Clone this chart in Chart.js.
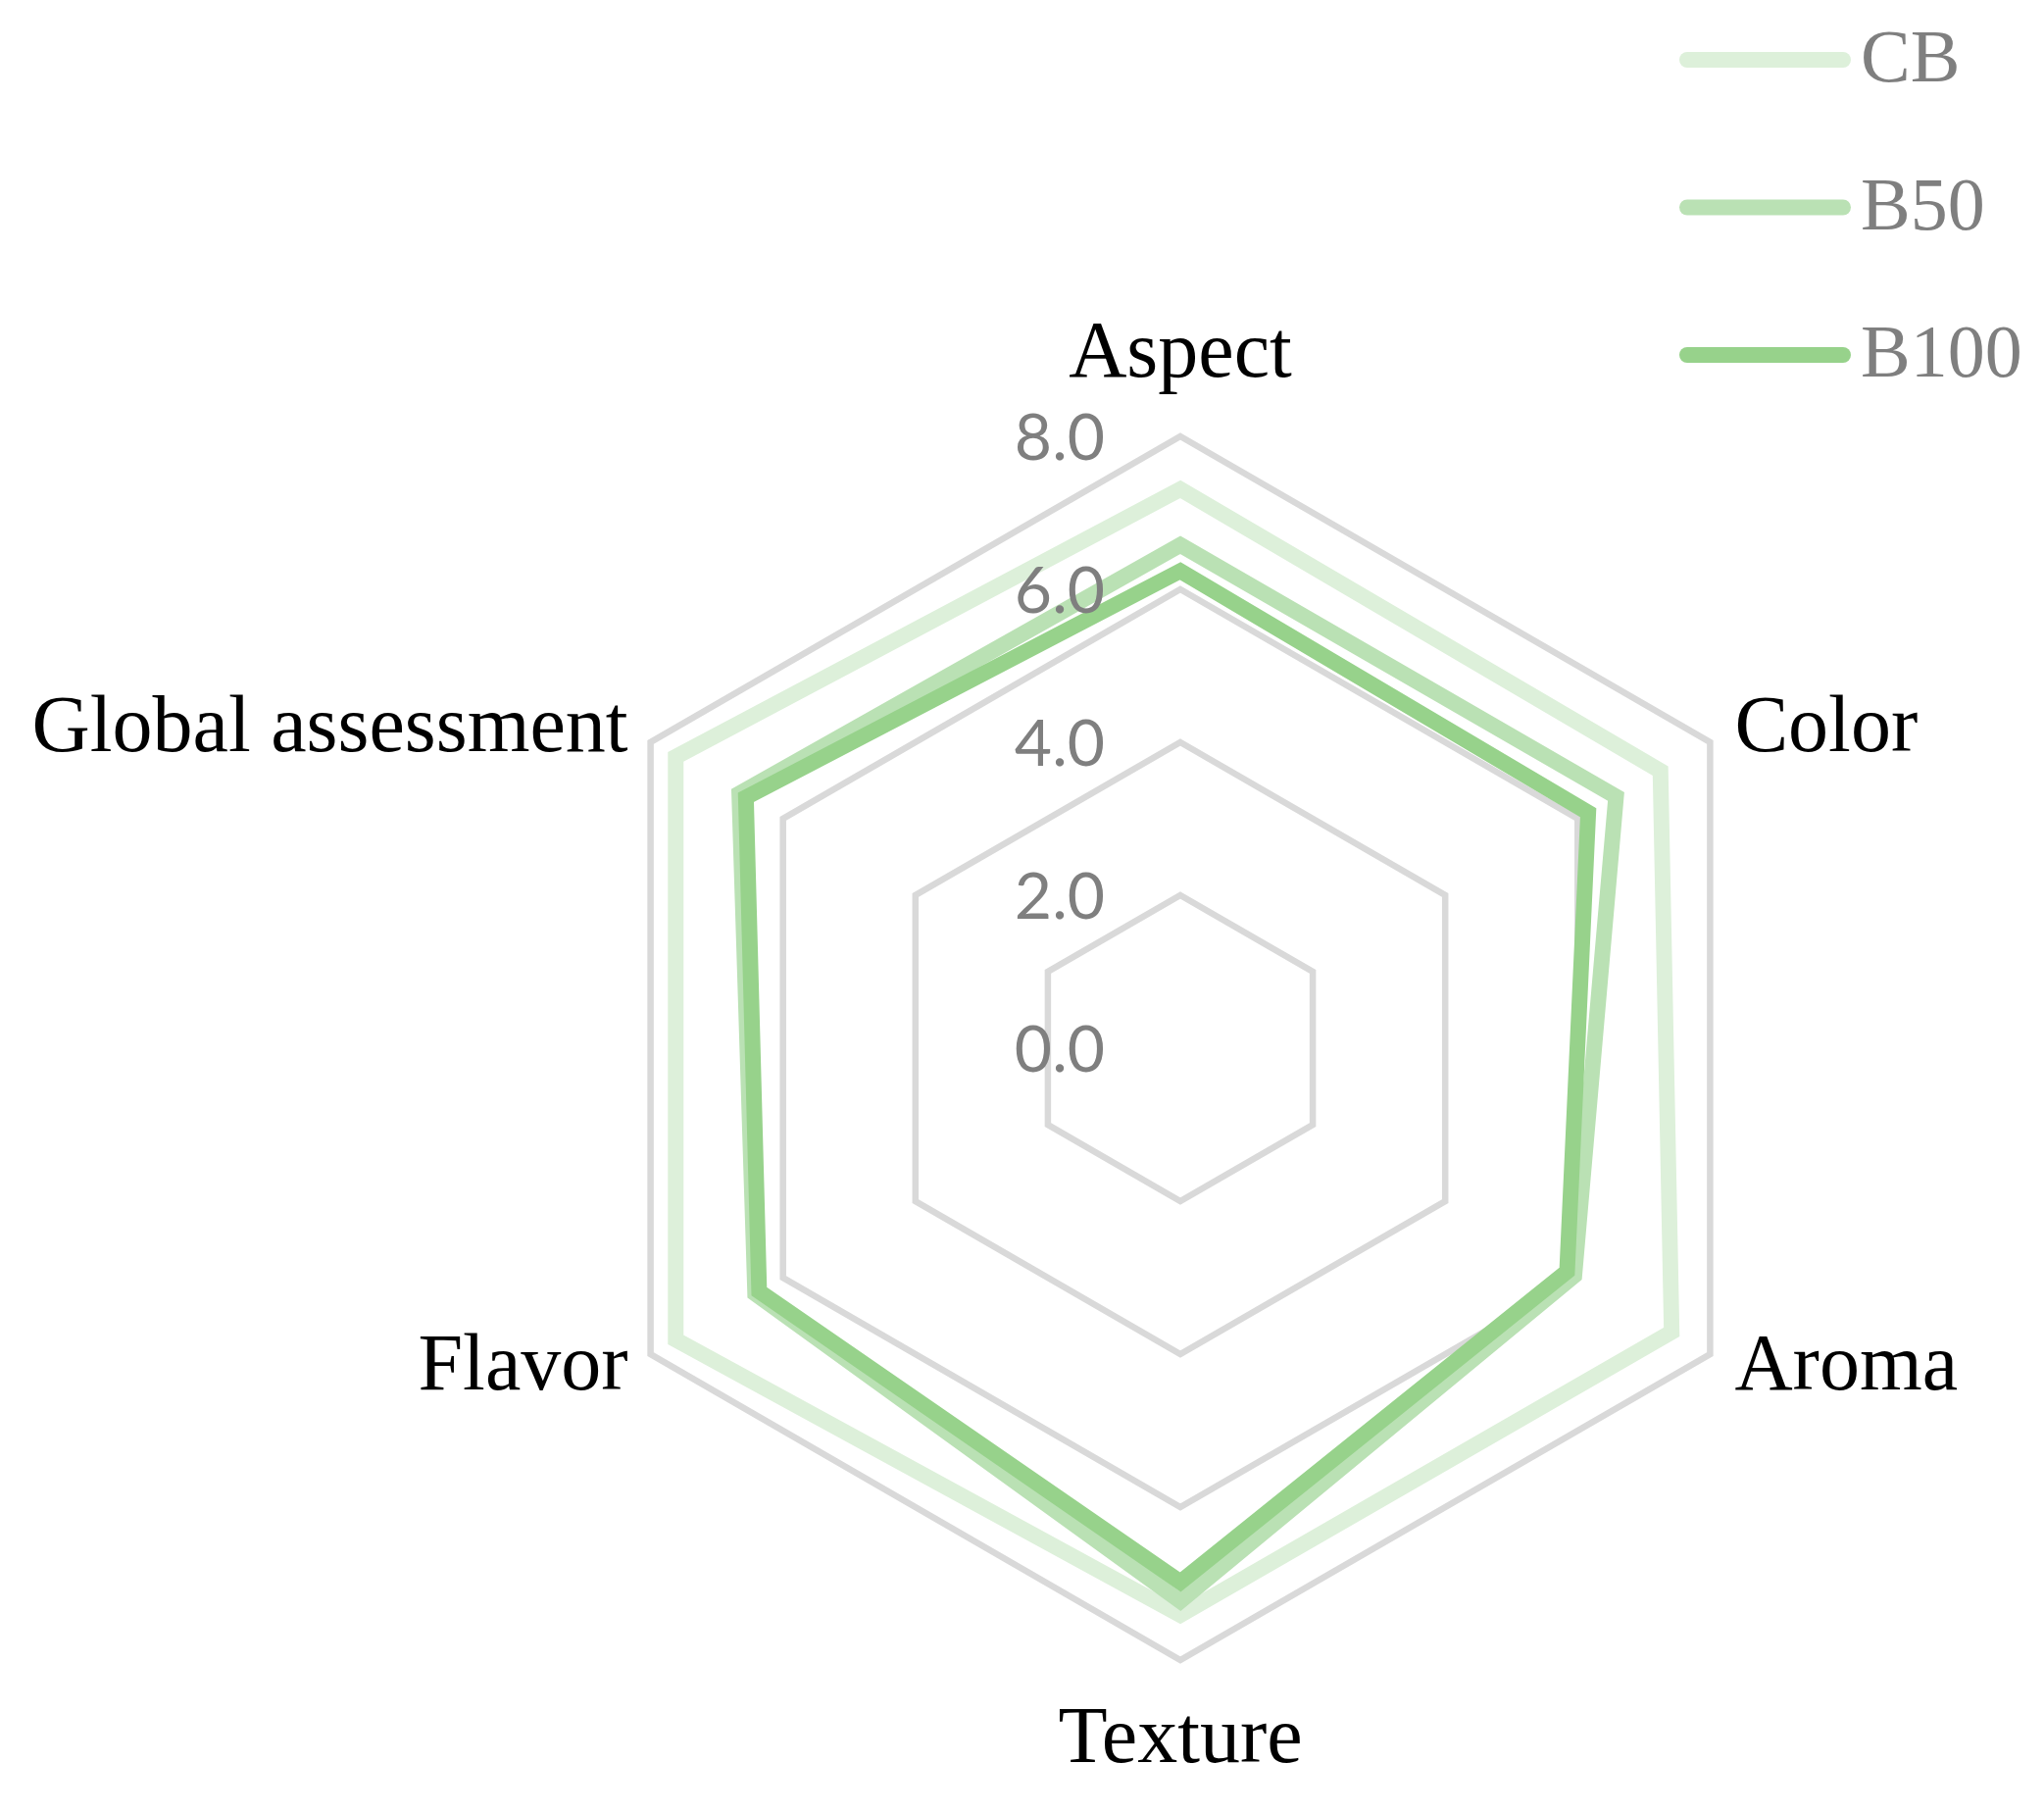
<!DOCTYPE html>
<html>
<head>
<meta charset="utf-8">
<style>
  html, body { margin: 0; padding: 0; background: #ffffff; }
  #wrap { width: 2085px; height: 1850px; position: relative; }
  canvas { display: block; }
</style>
<script src="https://cdn.jsdelivr.net/npm/chart.js@4.4.1/dist/chart.umd.min.js"></script>
</head>
<body>
<div id="wrap"><canvas id="c" width="2085" height="1850"></canvas></div>
<script>
// ---- data ----
const categories = ["Aspect", "Color", "Aroma", "Texture", "Flavor", "Global assessment"];
const seriesNames = ["CB", "B50", "B100"];
const cbValues   = [7.31, 7.25, 7.42, 7.41, 7.62, 7.62];
const b50Values  = [6.58, 6.58, 5.95, 7.23, 6.42, 6.66];
const b100Values = [6.24, 6.16, 5.84, 6.98, 6.36, 6.56];
const tickValues = [0, 2, 4, 6, 8];

// ---- styles ----
const seriesColors = ["rgb(221,240,218)", "rgb(186,225,180)", "rgb(151,210,139)"];
const gridColor = "#d9d9d9";
const serifFont = "'Liberation Serif', 'Times New Roman', serif";
const sansFont = "Lato, 'Open Sans', sans-serif";

const seriesValues = [cbValues, b50Values, b100Values];

// tick labels (right-aligned, left of the vertical axis)
const tickLabelPlugin = {
  id: 'tickLabels',
  afterDatasetsDraw(chart) {
    const s = chart.scales.r;
    const ctx = chart.ctx;
    ctx.save();
    ctx.font = "66px " + sansFont;
    ctx.fillStyle = "#7f7f7f";
    ctx.textAlign = "right";
    ctx.textBaseline = "alphabetic";
    tickValues.forEach(v => {
      const d = s.getDistanceFromCenterForValue(v);
      ctx.fillText(v.toFixed(1), s.xCenter - 77, s.yCenter - d + 24);
    });
    ctx.restore();
  }
};

// category labels placed around the outer ring
const pointLabelPlugin = {
  id: 'catLabels',
  afterDatasetsDraw(chart) {
    const s = chart.scales.r;
    const ctx = chart.ctx;
    ctx.save();
    ctx.font = "82px " + serifFont;
    ctx.fillStyle = "#000000";
    ctx.textBaseline = "alphabetic";
    chart.data.labels.forEach((lab, i) => {
      const p = s.getPointPosition(i, s.drawingArea);
      const dx = p.x - s.xCenter;
      const dy = p.y - s.yCenter;
      let x = p.x, y = p.y;
      if (Math.abs(dx) < 1) {
        ctx.textAlign = "center";
        y = dy < 0 ? p.y - 61 : p.y + 104;
      } else {
        ctx.textAlign = dx > 0 ? "left" : "right";
        x = dx > 0 ? p.x + 25 : p.x - 23;
        y = dy < 0 ? p.y + 9 : p.y + 36;
      }
      ctx.fillText(lab, x, y);
    });
    ctx.restore();
  }
};

// legend at the top right
const legendPlugin = {
  id: 'customLegend',
  afterDraw(chart) {
    const ctx = chart.ctx;
    ctx.save();
    ctx.font = "76px " + serifFont;
    ctx.textAlign = "left";
    ctx.textBaseline = "alphabetic";
    chart.data.datasets.forEach((ds, i) => {
      const y = 61 + i * 150.5;
      ctx.strokeStyle = ds.borderColor;
      ctx.lineWidth = 16;
      ctx.lineCap = "round";
      ctx.beginPath();
      ctx.moveTo(1721, y);
      ctx.lineTo(1880, y);
      ctx.stroke();
      ctx.fillStyle = "#7f7f7f";
      ctx.fillText(ds.label, 1898, y + 22);
    });
    ctx.restore();
  }
};

const datasets = seriesNames.map((name, i) => ({
  label: name,
  data: seriesValues[i],
  borderColor: seriesColors[i],
  backgroundColor: seriesColors[i],
  borderWidth: 16,
  borderJoinStyle: 'miter',
  fill: false,
  pointRadius: 0,
  pointHoverRadius: 0,
  tension: 0,
  order: seriesNames.length - i
}));

new Chart(document.getElementById('c'), {
  type: 'radar',
  data: { labels: categories, datasets: datasets },
  options: {
    responsive: false,
    animation: false,
    devicePixelRatio: 1,
    layout: { padding: { left: 580, right: 256, top: 445, bottom: 156 } },
    plugins: {
      legend: { display: false },
      tooltip: { enabled: false }
    },
    scales: {
      r: {
        min: 0,
        max: 8,
        ticks: { display: false, stepSize: 2 },
        grid: { color: gridColor, lineWidth: 6.5, circular: false },
        angleLines: { display: false },
        pointLabels: { display: false }
      }
    }
  },
  plugins: [tickLabelPlugin, pointLabelPlugin, legendPlugin]
});
</script>
</body>
</html>
